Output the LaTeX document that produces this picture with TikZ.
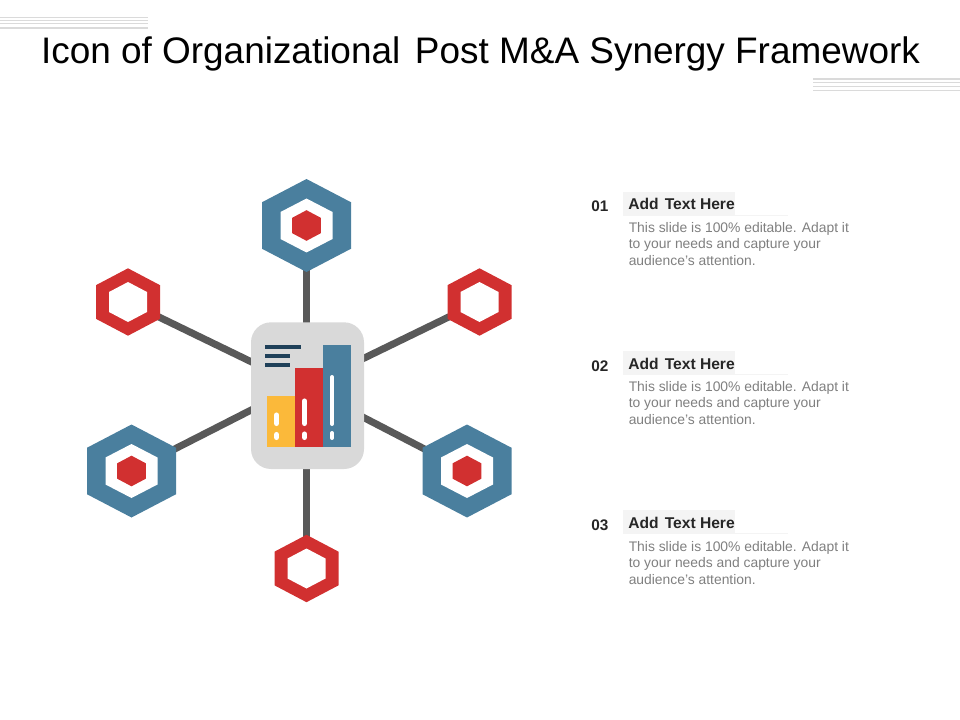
\documentclass[tikz,border=0pt]{standalone}
\usepackage{fontspec}
\setmainfont{Liberation Sans}
\definecolor{hexblue}{HTML}{4A7F9E}
\definecolor{hexred}{HTML}{D13030}
\definecolor{barred}{HTML}{D13030}
\definecolor{baryellow}{HTML}{FBB93A}
\definecolor{link}{HTML}{595959}
\definecolor{hubgray}{HTML}{D9D9D9}
\definecolor{navy}{HTML}{1F4059}
\definecolor{rulegray}{HTML}{DADADA}
\definecolor{bodygray}{HTML}{7F7F7F}
\definecolor{headbg}{HTML}{F4F4F4}
\tikzset{
  anchorpt/.style={inner sep=0pt,minimum size=0pt},
  linkline/.style={draw=link,line width=5.3pt},
  titletext/.style={inner sep=0pt,anchor=base,font=\fontsize{27.7}{31}\selectfont,text=black},
  numtext/.style={inner sep=0pt,anchor=base west,font=\bfseries\fontsize{11.5}{14}\selectfont,text=black!85},
  headtext/.style={inner sep=0pt,anchor=base west,font=\bfseries\fontsize{11.7}{14}\selectfont,text=black!85},
  bodytext/.style={inner sep=0pt,anchor=north west,align=left,font=\fontsize{10.4}{12.45}\selectfont,text=bodygray},
  rulel/.style={draw=rulegray,line width=0.8pt},
  whiteline/.style={draw=white,line cap=round}
}
% \hexa{x}{y}{half height}{half width}{colour}
\newcommand{\hexa}[5]{\fill[#5] (#1,#2-#3) -- (#1+#4,#2-#3/2) -- (#1+#4,#2+#3/2) -- (#1,#2+#3) -- (#1-#4,#2+#3/2) -- (#1-#4,#2-#3/2) -- cycle;}
\newcommand{\bighex}[2]{\hexa{#1}{#2}{46.5}{44.5}{hexblue}\hexa{#1}{#2}{27}{26}{white}\hexa{#1}{#2}{15.3}{14.4}{hexred}}
\newcommand{\smallhex}[2]{\hexa{#1}{#2}{33.7}{32}{hexred}\hexa{#1}{#2}{20}{19}{white}}
\newcommand{\textblock}[5]{%
  \fill[headbg] (623,#1-12) rectangle (735,#1+12);
  \draw[draw=headbg,line width=0.7pt] (623,#1+11.5) -- (788,#1+11.5);
  \node[numtext] (num#5) at (591,#2) {#3};
  \node[headtext] (head#5) at (628,#1+6) {Add\hspace{0.12em} Text Here};
  \node[bodytext] (body#5) at (628.5,#4) {This slide is 100\% editable. Adapt it\\to your needs and capture your\\audience's attention.};
}
\begin{document}
\begin{tikzpicture}[x=0.75pt,y=-0.75pt]
\useasboundingbox (0,0) rectangle (960,720);
% corner rules
\foreach \yy in {17.3,20.5,23.8,28}{\draw[rulel] (0,\yy) -- (148,\yy);}
\foreach \yy in {79,82.6,86.7,90.6}{\draw[rulel] (813,\yy) -- (960,\yy);}
% title
\node[titletext] (title) at (480.5,63.5) {Icon of Organizational\hspace{0.12em} Post M\&A Synergy Framework};
% anchors
\node[anchorpt] (hexTop) at (306.5,225.5) {};
\node[anchorpt] (hexTL) at (128,302) {};
\node[anchorpt] (hexTR) at (479.5,302) {};
\node[anchorpt] (hexBL) at (131.5,471) {};
\node[anchorpt] (hexBR) at (467,471) {};
\node[anchorpt] (hexBot) at (306.5,568.5) {};
\node[anchorpt] (hubTop) at (306.5,340) {};
\node[anchorpt] (hubTL) at (262,367) {};
\node[anchorpt] (hubTR) at (352,364) {};
\node[anchorpt] (hubBL) at (262,404.5) {};
\node[anchorpt] (hubBR) at (352,411.5) {};
\node[anchorpt] (hubBot) at (306.5,450) {};
% connectors
\draw[linkline] (hexTop) -- (hubTop);
\draw[linkline] (hexTL) -- (hubTL);
\draw[linkline] (hexTR) -- (hubTR);
\draw[linkline] (hexBL) -- (hubBL);
\draw[linkline] (hexBR) -- (hubBR);
\draw[linkline] (hexBot) -- (hubBot);
% hexagons
\bighex{306.5}{225.5}
\smallhex{128}{302}
\smallhex{479.5}{302}
\bighex{131.5}{471}
\bighex{467}{471}
\smallhex{306.5}{568.5}
% hub
\fill[hubgray,rounded corners=15pt] (251,322.3) rectangle (364,469);
\fill[navy] (265,345) rectangle (301,349);
\fill[navy] (265,354) rectangle (290,358);
\fill[navy] (265,363) rectangle (290,367);
\fill[baryellow] (267,396) rectangle (295,447);
\fill[barred] (295,368) rectangle (323,447);
\fill[hexblue] (323,345) rectangle (351,447);
\draw[whiteline,line width=3.8pt] (276.5,415) -- (276.5,423.5);
\draw[whiteline,line width=3.8pt] (276.5,434.5) -- (276.5,437.5);
\draw[whiteline,line width=3.8pt] (304.5,401) -- (304.5,423.5);
\draw[whiteline,line width=3.8pt] (304.5,434) -- (304.5,437.5);
\draw[whiteline,line width=3pt] (332,377) -- (332,424);
\draw[whiteline,line width=3pt] (332,433) -- (332,438);
% text blocks
\textblock{204}{211.5}{01}{222}{A}
\textblock{363}{371.5}{02}{381}{B}
\textblock{522}{530.5}{03}{541}{C}
\end{tikzpicture}
\end{document}
